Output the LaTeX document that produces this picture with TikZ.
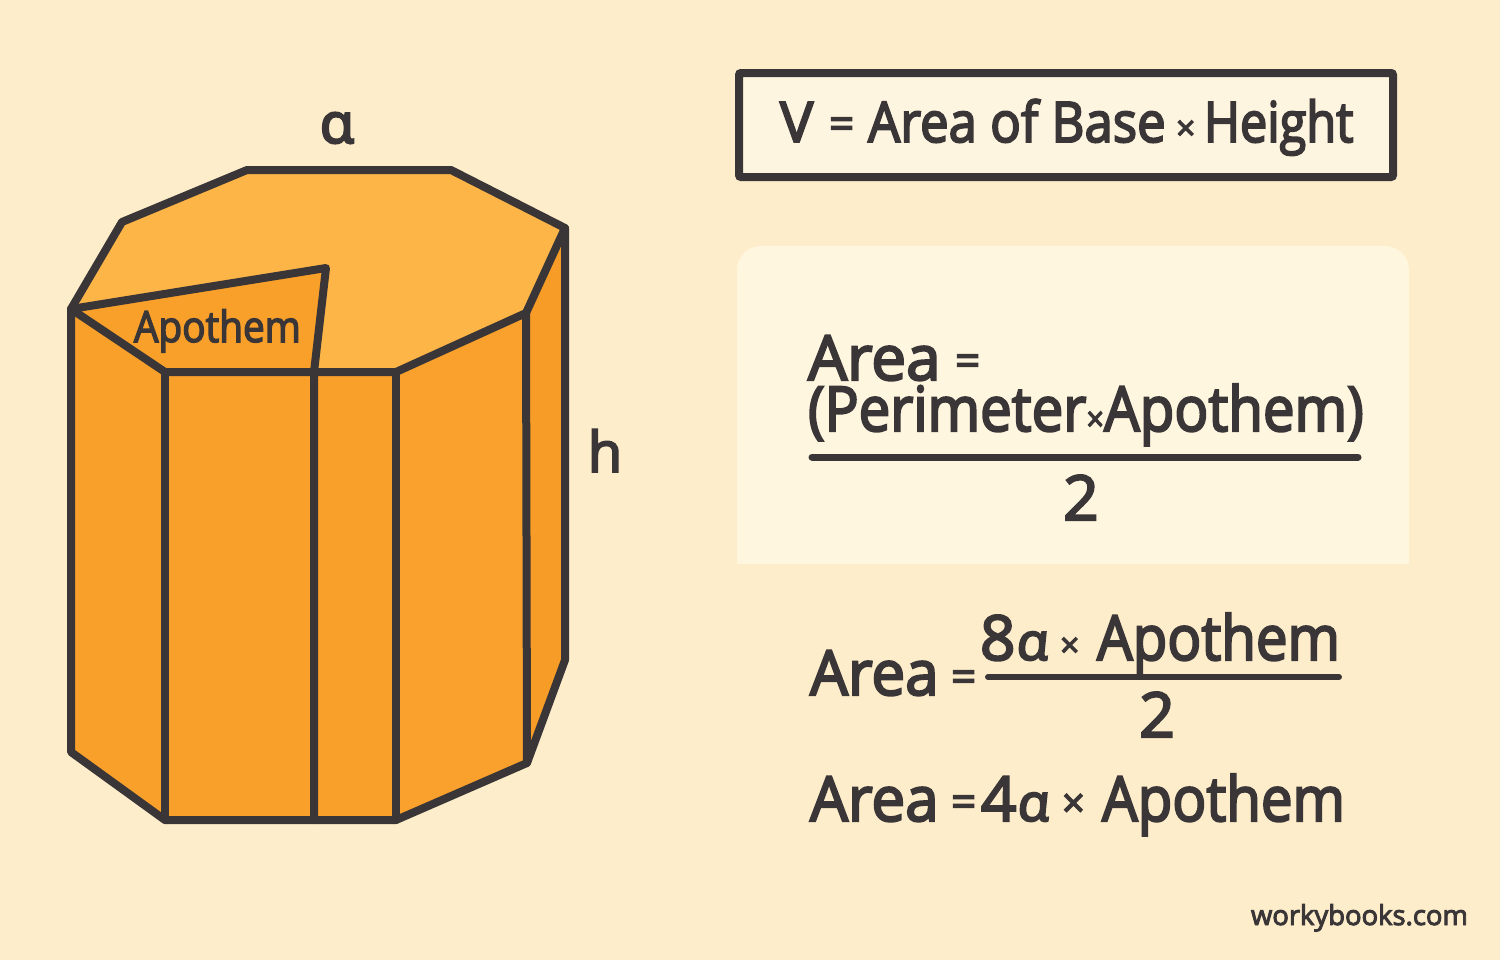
\documentclass[tikz,border=0pt]{standalone}
\usepackage{fontspec}
\setmainfont{Open Sans}[FakeBold=3.5]
\newfontfamily\alphaup{Noto Sans}[FakeBold=3.5]
\newfontfamily\alphasl{Noto Sans}[FakeBold=3.5,FakeSlant=0.1]
\definecolor{bgc}{HTML}{FDEDCA}
\definecolor{panelc}{HTML}{FFF6E0}
\definecolor{boxc}{HTML}{FEF5E0}
\definecolor{inkc}{HTML}{3A3637}
\definecolor{topc}{HTML}{FDB548}
\definecolor{sidec}{HTML}{F9A02B}
\definecolor{rightc}{HTML}{F79C27}
\newcommand{\smalltimes}{{\fontsize{17}{17}\selectfont×}}
\newcommand{\slalpha}{{\fontsize{26}{26}\selectfont\alphasl ɑ}}
\tikzset{
  x=0.5pt,y=-0.5pt,
  edge/.style={draw=inkc,line width=4pt,line join=round,line cap=round},
  rulebar/.style={draw=inkc,line cap=round},
  txt/.style={anchor=base west,inner sep=0pt,outer sep=0pt,text=inkc},
  big/.style={txt,font=\fontsize{31}{31}\selectfont},
  mid/.style={txt,font=\fontsize{28}{28}\selectfont},
  eqs/.style={txt,font=\fontsize{22}{22}\selectfont},
  bigc/.style={big,anchor=base},
  sq/.style={xscale=#1,transform shape},
}
\begin{document}
\begin{tikzpicture}
\useasboundingbox (0,0) rectangle (1500,960);
\fill[bgc] (0,0) rectangle (1500,960);
% prism vertices
\coordinate (t1) at (71,309);
\coordinate (t2) at (122,222);
\coordinate (t3) at (247,170);
\coordinate (t4) at (451,170);
\coordinate (t5) at (565,228);
\coordinate (t6) at (526,313);
\coordinate (t7) at (396,372);
\coordinate (t8) at (165,372);
\coordinate (b1) at (71,752);
\coordinate (b8) at (165,820);
\coordinate (b7) at (396,820);
\coordinate (b6) at (527,763);
\coordinate (b5) at (565,660);
\coordinate (am) at (314,372);
\coordinate (bm) at (314,820);
\coordinate (ap) at (326,268);
% faces
\fill[sidec] (t1)--(t8)--(b8)--(b1)--cycle;
\fill[sidec] (t8)--(t7)--(b7)--(b8)--cycle;
\fill[sidec!97!topc] (t7)--(t6)--(b6)--(b7)--cycle;
\fill[rightc] (t6)--(t5)--(b5)--(b6)--cycle;
\fill[topc] (t1)--(t2)--(t3)--(t4)--(t5)--(t6)--(t7)--(t8)--cycle;
\fill[sidec] (t1)--(ap)--(am)--(t8)--cycle;
% edges
\draw[edge] (t1)--(t2)--(t3)--(t4)--(t5)--(t6)--(t7)--(t8)--cycle;
\draw[edge] (t1)--(ap)--(am)--(bm);
\draw[edge] (t1)--(b1)--(b8)--(b7)--(b6)--(b5)--(t5);
\draw[edge] (t8)--(b8);
\draw[edge] (t7)--(b7);
\draw[edge] (t6)--(b6);
% labels on prism
\node[txt,sq=0.9,font=\fontsize{21.5}{21.5}\selectfont] (lap) at (134,342) {Apothem};
\node[bigc,font=\fontsize{28}{28}\selectfont] (la) at (337,143) {\alphaup ɑ};
\node[bigc,font=\fontsize{28}{28}\selectfont] (lh) at (605,472) {h};
% volume box
\node[draw=inkc,fill=boxc,line width=4pt,rounded corners=1pt,minimum width=327pt,minimum height=52pt,inner sep=0pt] (vbox) at (1066,125) {};
\node[mid] (vv) at (780,142) {V};
\node[eqs] (ve) at (829,139) {=};
\node[mid,sq=0.91] (vtext) at (868,142) {Area of Base};
\node[txt,font=\fontsize{17}{17}\selectfont] (vx) at (1176,140) {×};
\node[mid,sq=0.87] (vh) at (1204,142) {Height};
% panel
\fill[panelc,rounded corners=12pt] (737,246) rectangle (1409,420);
\fill[panelc] (737,300) rectangle (1409,564);
\node[big] (a1) at (808,380) {Area};
\node[eqs] (a1e) at (955,376) {=};
\node[big,sq=0.91] (a2) at (808,431) {(Perimeter\smalltimes Apothem)};
\coordinate (r1a) at (812,457); \coordinate (r1b) at (1358,457);
\draw[rulebar,line width=3.5pt] (r1a)--(r1b);
\node[bigc] (a3) at (1081,520) {2};
% second formula
\node[big,sq=0.97] (f1) at (810,695) {Area};
\node[eqs] (f1e) at (951,692) {=};
\node[big] (f2) at (980,660) {8\slalpha};
\node[txt,font=\fontsize{17}{17}\selectfont] (f2x) at (1060,657) {×};
\node[big,sq=0.91] (f2b) at (1097,660) {Apothem};
\coordinate (r2a) at (988,677); \coordinate (r2b) at (1339,677);
\draw[rulebar,line width=3pt] (r2a)--(r2b);
\node[bigc] (f3) at (1157,737) {2};
% third formula
\node[big,sq=0.97] (g1) at (810,821) {Area};
\node[eqs] (g1e) at (951,817) {=};
\node[big] (g2) at (981,821) {4\slalpha};
\node[txt,font=\fontsize{20}{20}\selectfont] (g3) at (1062,817) {×};
\node[big,sq=0.91] (g4) at (1102,821) {Apothem};
% brand
\node[txt,font=\fontsize{13.7}{13.7}\selectfont] (brand) at (1251,925) {workybooks.com};
\end{tikzpicture}
\end{document}
